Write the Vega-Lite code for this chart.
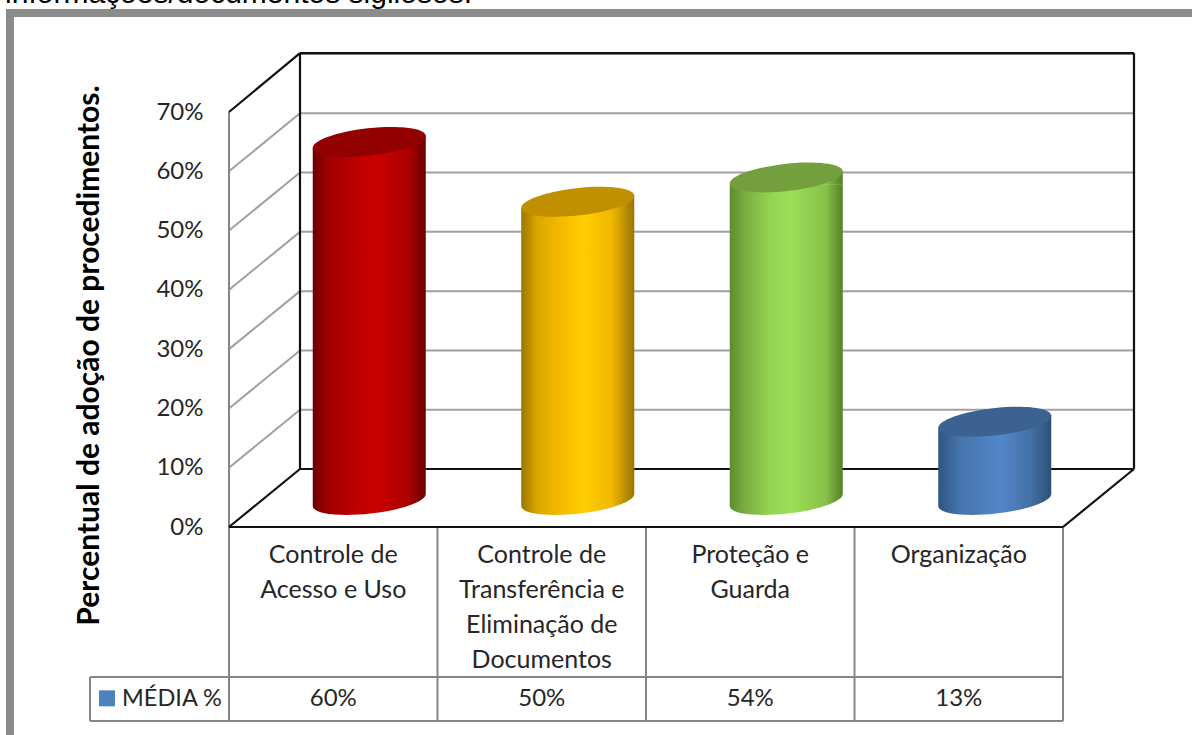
{
"$schema":"https://vega.github.io/schema/vega-lite/v6.json",
"width":1192,"height":735,"autosize":"none","padding":0,"background":"white",
"config":{"view":{"stroke":null}},
"datasets":{
"medias":[
{"categoria":"Controle de\nAcesso e Uso","posicao":0.5,"valor":0.604},
{"categoria":"Controle de\nTransferência e\nEliminação de\nDocumentos","posicao":1.5,"valor":0.503},
{"categoria":"Proteção e\nGuarda","posicao":2.5,"valor":0.544},
{"categoria":"Organização","posicao":3.5,"valor":0.132}],
"grade":[{"v":0.1},{"v":0.2},{"v":0.3},{"v":0.4},{"v":0.5},{"v":0.6},{"v":0.7}],
"estrutura":[
{"tipo":"preto","x":0,"x2":4,"y":0,"y2":0},
{"tipo":"preto","x":0,"x2":0.3405,"y":0,"y2":0.0978},
{"tipo":"preto","x":4,"x2":4.3405,"y":0,"y2":0.0978},
{"tipo":"preto","x":0.3405,"x2":4.3405,"y":0.0978,"y2":0.0978},
{"tipo":"preto","x":0.3405,"x2":0.3405,"y":0.0978,"y2":0.7993},
{"tipo":"preto","x":4.3405,"x2":4.3405,"y":0.0978,"y2":0.7993},
{"tipo":"preto","x":0.3405,"x2":4.3405,"y":0.7993,"y2":0.7993},
{"tipo":"preto","x":0,"x2":0.3405,"y":0.7,"y2":0.7993},
{"tipo":"cinza","x":0,"x2":0,"y":0,"y2":0.7},
{"tipo":"cinza","x":0,"x2":0,"y":0,"y2":-0.3272},
{"tipo":"cinza","x":1,"x2":1,"y":0,"y2":-0.3272},
{"tipo":"cinza","x":2,"x2":2,"y":0,"y2":-0.3272},
{"tipo":"cinza","x":3,"x2":3,"y":0,"y2":-0.3272},
{"tipo":"cinza","x":4,"x2":4,"y":0,"y2":-0.3272},
{"tipo":"cinza","x":-0.6667,"x2":4,"y":-0.253,"y2":-0.253},
{"tipo":"cinza","x":-0.6667,"x2":4,"y":-0.3272,"y2":-0.3272},
{"tipo":"cinza","x":-0.6667,"x2":-0.6667,"y":-0.253,"y2":-0.3272},
{"tipo":"moldura","x":-1.0504,"x2":4.7,"y":0.8668,"y2":0.8668},
{"tipo":"moldura","x":-1.0504,"x2":-1.0504,"y":0.8668,"y2":-0.3474}
]},
"encoding":{
"x":{"type":"quantitative","scale":{"domain":[0,4],"range":[229,1063],"nice":false,"zero":false,"padding":0},"axis":null},
"y":{"type":"quantitative","scale":{"domain":[0,0.7],"range":[527,112],"nice":false,"zero":false,"padding":0}}
},
"layer":[
{"data":{"name":"estrutura"},"transform":[{"filter":{"field":"tipo","equal":"moldura"}}],
"mark":{"type":"rule","stroke":"#8c8c8c","strokeWidth":8,"strokeCap":"square"},
"encoding":{"x":{"field":"x"},"x2":{"field":"x2"},"y":{"field":"y","axis":{"values":[0,0.1,0.2,0.3,0.4,0.5,0.6,0.7],"format":".0%","offset":-229,"labelPadding":26,"ticks":false,"domain":false,"grid":false,"labelFont":"Lato","labelFontSize":24,"labelColor":"#262626","title":"Percentual de adoção de procedimentos.","titleFont":"Lato","titleFontSize":30,"titleFontWeight":"bold","titleColor":"#000000","titleAngle":-90,"titleX":-131,"titleY":355,"titleAlign":"center","titleBaseline":"alphabetic"}},"y2":{"field":"y2"}}},
{"data":{"values":[{"texto":"informações/documentos sigilosos.","x":-1.074,"y":0.8836}]},
"mark":{"type":"text","font":"Liberation Sans","fontSize":30,"align":"left","baseline":"alphabetic","color":"#000000"},
"encoding":{"x":{"field":"x"},"y":{"field":"y"},"text":{"field":"texto"}}},
{"data":{"name":"grade"},
"mark":{"type":"rule","stroke":"#a0a0a0","strokeWidth":2,"xOffset":71,"x2Offset":71,"yOffset":-58,"y2Offset":-58},
"encoding":{"x":{"datum":0},"x2":{"datum":4},"y":{"field":"v"},"y2":{"field":"v"}}},
{"data":{"name":"grade"},"transform":[{"filter":"datum.v<0.7"}],
"mark":{"type":"rule","stroke":"#a0a0a0","strokeWidth":2,"x2Offset":71,"y2Offset":-58},
"encoding":{"x":{"datum":0},"x2":{"datum":0},"y":{"field":"v"},"y2":{"field":"v"}}},
{"data":{"name":"estrutura"},"transform":[{"filter":{"field":"tipo","equal":"cinza"}}],
"mark":{"type":"rule","stroke":"#868686","strokeWidth":2},
"encoding":{"x":{"field":"x"},"x2":{"field":"x2"},"y":{"field":"y"},"y2":{"field":"y2"}}},
{"data":{"name":"estrutura"},"transform":[{"filter":{"field":"tipo","equal":"preto"}}],
"mark":{"type":"rule","stroke":"#111111","strokeWidth":2.2},
"encoding":{"x":{"field":"x"},"x2":{"field":"x2"},"y":{"field":"y"},"y2":{"field":"y2"}}},

{"data":{"name":"medias"},"transform":[{"filter":{"field":"posicao","equal":0.5}}],
"mark":{"type":"bar","orient":"vertical","width":113,"xOffset":36,"yOffset":-20,"y2Offset":-34,"fill":{"gradient":"linear","x1":0,"x2":1,"y1":0,"y2":0,"stops":[{"offset":0,"color":"#6a0000"},{"offset":0.14,"color":"#a00000"},{"offset":0.4,"color":"#c00000"},{"offset":0.55,"color":"#cc0000"},{"offset":0.85,"color":"#aa0000"},{"offset":1,"color":"#680000"}]}},
"encoding":{"x":{"field":"posicao"},"y":{"field":"valor"},"y2":{"datum":0}}},
{"data":{"name":"medias"},"transform":[{"filter":{"field":"posicao","equal":0.5}}],
"mark":{"type":"point","filled":true,"opacity":1,"size":12769,"xOffset":36,"yOffset":-27,"shape":"M-1,-0.13 L1,-0.13 L1,-0.1125 A1.006,0.2415,-6.42,0,1,-1,0.1125 Z","fill":{"gradient":"linear","x1":0,"x2":1,"y1":0,"y2":0,"stops":[{"offset":0,"color":"#6a0000"},{"offset":0.14,"color":"#a00000"},{"offset":0.4,"color":"#c00000"},{"offset":0.55,"color":"#cc0000"},{"offset":0.85,"color":"#aa0000"},{"offset":1,"color":"#680000"}]}},
"encoding":{"x":{"field":"posicao"},"y":{"datum":0}}},
{"data":{"name":"medias"},"transform":[{"filter":{"field":"posicao","equal":0.5}}],
"mark":{"type":"point","filled":true,"opacity":1,"size":12769,"xOffset":36,"yOffset":-27,"shape":"M-1,0.13 L1,0.13 L1,-0.1125 L-1,0.1125 Z","fill":{"gradient":"linear","x1":0,"x2":1,"y1":0,"y2":0,"stops":[{"offset":0,"color":"#6a0000"},{"offset":0.14,"color":"#a00000"},{"offset":0.4,"color":"#c00000"},{"offset":0.55,"color":"#cc0000"},{"offset":0.85,"color":"#aa0000"},{"offset":1,"color":"#680000"}]}},
"encoding":{"x":{"field":"posicao"},"y":{"field":"valor"}}},

{"data":{"name":"medias"},"transform":[{"filter":{"field":"posicao","equal":1.5}}],
"mark":{"type":"bar","orient":"vertical","width":113,"xOffset":36,"yOffset":-20,"y2Offset":-34,"fill":{"gradient":"linear","x1":0,"x2":1,"y1":0,"y2":0,"stops":[{"offset":0,"color":"#9a7600"},{"offset":0.14,"color":"#dba600"},{"offset":0.35,"color":"#f5ba00"},{"offset":0.55,"color":"#ffcc00"},{"offset":0.8,"color":"#f2b800"},{"offset":1,"color":"#967400"}]}},
"encoding":{"x":{"field":"posicao"},"y":{"field":"valor"},"y2":{"datum":0}}},
{"data":{"name":"medias"},"transform":[{"filter":{"field":"posicao","equal":1.5}}],
"mark":{"type":"point","filled":true,"opacity":1,"size":12769,"xOffset":36,"yOffset":-27,"shape":"M-1,-0.13 L1,-0.13 L1,-0.1125 A1.006,0.2415,-6.42,0,1,-1,0.1125 Z","fill":{"gradient":"linear","x1":0,"x2":1,"y1":0,"y2":0,"stops":[{"offset":0,"color":"#9a7600"},{"offset":0.14,"color":"#dba600"},{"offset":0.35,"color":"#f5ba00"},{"offset":0.55,"color":"#ffcc00"},{"offset":0.8,"color":"#f2b800"},{"offset":1,"color":"#967400"}]}},
"encoding":{"x":{"field":"posicao"},"y":{"datum":0}}},
{"data":{"name":"medias"},"transform":[{"filter":{"field":"posicao","equal":1.5}}],
"mark":{"type":"point","filled":true,"opacity":1,"size":12769,"xOffset":36,"yOffset":-27,"shape":"M-1,0.13 L1,0.13 L1,-0.1125 L-1,0.1125 Z","fill":{"gradient":"linear","x1":0,"x2":1,"y1":0,"y2":0,"stops":[{"offset":0,"color":"#9a7600"},{"offset":0.14,"color":"#dba600"},{"offset":0.35,"color":"#f5ba00"},{"offset":0.55,"color":"#ffcc00"},{"offset":0.8,"color":"#f2b800"},{"offset":1,"color":"#967400"}]}},
"encoding":{"x":{"field":"posicao"},"y":{"field":"valor"}}},

{"data":{"name":"medias"},"transform":[{"filter":{"field":"posicao","equal":2.5}}],
"mark":{"type":"bar","orient":"vertical","width":113,"xOffset":36,"yOffset":-20,"y2Offset":-34,"fill":{"gradient":"linear","x1":0,"x2":1,"y1":0,"y2":0,"stops":[{"offset":0,"color":"#5f8c2c"},{"offset":0.14,"color":"#7cae43"},{"offset":0.35,"color":"#93d350"},{"offset":0.53,"color":"#9be058"},{"offset":0.85,"color":"#88c049"},{"offset":1,"color":"#557f27"}]}},
"encoding":{"x":{"field":"posicao"},"y":{"field":"valor"},"y2":{"datum":0}}},
{"data":{"name":"medias"},"transform":[{"filter":{"field":"posicao","equal":2.5}}],
"mark":{"type":"point","filled":true,"opacity":1,"size":12769,"xOffset":36,"yOffset":-27,"shape":"M-1,-0.13 L1,-0.13 L1,-0.1125 A1.006,0.2415,-6.42,0,1,-1,0.1125 Z","fill":{"gradient":"linear","x1":0,"x2":1,"y1":0,"y2":0,"stops":[{"offset":0,"color":"#5f8c2c"},{"offset":0.14,"color":"#7cae43"},{"offset":0.35,"color":"#93d350"},{"offset":0.53,"color":"#9be058"},{"offset":0.85,"color":"#88c049"},{"offset":1,"color":"#557f27"}]}},
"encoding":{"x":{"field":"posicao"},"y":{"datum":0}}},
{"data":{"name":"medias"},"transform":[{"filter":{"field":"posicao","equal":2.5}}],
"mark":{"type":"point","filled":true,"opacity":1,"size":12769,"xOffset":36,"yOffset":-27,"shape":"M-1,0.13 L1,0.13 L1,-0.1125 L-1,0.1125 Z","fill":{"gradient":"linear","x1":0,"x2":1,"y1":0,"y2":0,"stops":[{"offset":0,"color":"#5f8c2c"},{"offset":0.14,"color":"#7cae43"},{"offset":0.35,"color":"#93d350"},{"offset":0.53,"color":"#9be058"},{"offset":0.85,"color":"#88c049"},{"offset":1,"color":"#557f27"}]}},
"encoding":{"x":{"field":"posicao"},"y":{"field":"valor"}}},

{"data":{"name":"medias"},"transform":[{"filter":{"field":"posicao","equal":3.5}}],
"mark":{"type":"bar","orient":"vertical","width":113,"xOffset":36,"yOffset":-20,"y2Offset":-34,"fill":{"gradient":"linear","x1":0,"x2":1,"y1":0,"y2":0,"stops":[{"offset":0,"color":"#2f5582"},{"offset":0.18,"color":"#4673aa"},{"offset":0.4,"color":"#4d7fbe"},{"offset":0.55,"color":"#5487ca"},{"offset":0.82,"color":"#4470a5"},{"offset":1,"color":"#2e5078"}]}},
"encoding":{"x":{"field":"posicao"},"y":{"field":"valor"},"y2":{"datum":0}}},
{"data":{"name":"medias"},"transform":[{"filter":{"field":"posicao","equal":3.5}}],
"mark":{"type":"point","filled":true,"opacity":1,"size":12769,"xOffset":36,"yOffset":-27,"shape":"M-1,-0.13 L1,-0.13 L1,-0.1125 A1.006,0.2415,-6.42,0,1,-1,0.1125 Z","fill":{"gradient":"linear","x1":0,"x2":1,"y1":0,"y2":0,"stops":[{"offset":0,"color":"#2f5582"},{"offset":0.18,"color":"#4673aa"},{"offset":0.4,"color":"#4d7fbe"},{"offset":0.55,"color":"#5487ca"},{"offset":0.82,"color":"#4470a5"},{"offset":1,"color":"#2e5078"}]}},
"encoding":{"x":{"field":"posicao"},"y":{"datum":0}}},
{"data":{"name":"medias"},"transform":[{"filter":{"field":"posicao","equal":3.5}}],
"mark":{"type":"point","filled":true,"opacity":1,"size":12769,"xOffset":36,"yOffset":-27,"shape":"M-1,0.13 L1,0.13 L1,-0.1125 L-1,0.1125 Z","fill":{"gradient":"linear","x1":0,"x2":1,"y1":0,"y2":0,"stops":[{"offset":0,"color":"#2f5582"},{"offset":0.18,"color":"#4673aa"},{"offset":0.4,"color":"#4d7fbe"},{"offset":0.55,"color":"#5487ca"},{"offset":0.82,"color":"#4470a5"},{"offset":1,"color":"#2e5078"}]}},
"encoding":{"x":{"field":"posicao"},"y":{"field":"valor"}}},

{"data":{"name":"medias"},
"mark":{"type":"point","filled":true,"opacity":1,"size":12769,"xOffset":36,"yOffset":-27,"shape":"M-1,0.1125 A1.006,0.2415,-6.42,1,1,1,-0.1125 A1.006,0.2415,-6.42,1,1,-1,0.1125 Z"},
"encoding":{"x":{"field":"posicao"},"y":{"field":"valor"},"color":{"field":"posicao","type":"ordinal","legend":null,"scale":{"domain":[0.5,1.5,2.5,3.5],"range":["#930000","#c09000","#739f3c","#3c6291"]}}}},

{"data":{"name":"medias"},
"mark":{"type":"text","font":"Lato","fontSize":25,"lineHeight":35,"lineBreak":"\n","baseline":"top","align":"center","color":"#262626","yOffset":16},
"encoding":{"x":{"field":"posicao"},"y":{"datum":0},"text":{"field":"categoria"}}},
{"data":{"name":"medias"},
"mark":{"type":"text","font":"Lato","fontSize":24,"baseline":"middle","align":"center","color":"#262626","yOffset":172},
"encoding":{"x":{"field":"posicao"},"y":{"datum":0},"text":{"field":"valor","format":".0%"}}},
{"data":{"values":[{"serie":"MÉDIA %","x":-0.585,"y":-0.289}]},
"mark":{"type":"point","shape":"square","filled":true,"opacity":1,"size":256,"fill":"#4f81bd"},
"encoding":{"x":{"field":"x"},"y":{"field":"y"}}},
{"data":{"values":[{"serie":"MÉDIA %","x":-0.513,"y":-0.29}]},
"mark":{"type":"text","font":"Lato","fontSize":23.5,"baseline":"middle","align":"left","color":"#262626"},
"encoding":{"x":{"field":"x"},"y":{"field":"y"},"text":{"field":"serie"}}}
]
}
